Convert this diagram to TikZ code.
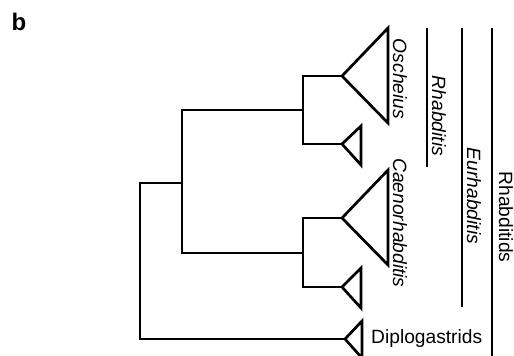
\documentclass[tikz,border=0pt]{standalone}
\usepackage{fontspec}
\setmainfont{Liberation Sans}
\begin{document}
\begin{tikzpicture}[x=1pt, y=-1pt,
    branch/.style={line width=2.7pt, line join=miter},
    clade/.style={line width=2.7pt, line join=miter},
    bar/.style={line width=2.7pt},
    taxon/.style={font=\fontsize{19.2}{23}\selectfont, inner sep=0pt},
    vtaxon/.style={taxon, rotate=-90},
  ]
  \useasboundingbox (0,0) rectangle (514,356);

  % panel letter
  \node[font=\fontsize{24}{28}\selectfont\bfseries, inner sep=0pt] (panel) at (19,22) {b};

  % internal nodes of the tree
  \coordinate (n0) at (140,261);
  \coordinate (n1) at (182,183);
  \coordinate (n2) at (303,110);
  \coordinate (n3) at (303,253);

  % apexes of the collapsed clades
  \coordinate (aOsc) at (342,76);
  \coordinate (aSmA) at (342,144);
  \coordinate (aCae) at (342,218);
  \coordinate (aSmB) at (342,287);
  \coordinate (aDip) at (345,339);

  % branches
  \draw[branch] (n1) -| (n0) |- (aDip);
  \draw[branch] (n2) -| (n1) |- (n3);
  \draw[branch] (aOsc) -| (n2) |- (aSmA);
  \draw[branch] (aCae) -| (n3) |- (aSmB);

  % collapsed clades
  \draw[clade] (aOsc) -- ++(46,-48) -- ++(0,95) -- cycle;
  \draw[clade] (aSmA) -- ++(19,-18) -- ++(0,39) -- cycle;
  \draw[clade] (aCae) -- ++(46,-48) -- ++(0,95) -- cycle;
  \draw[clade] (aSmB) -- ++(19,-19) -- ++(0,40) -- cycle;
  \draw[clade] (aDip) -- ++(17,-18) -- ++(0,37) -- cycle;

  % clade labels
  \node[vtaxon] (lOsc) at (400,79) {\itshape Oscheius};
  \node[vtaxon] (lCae) at (400,223) {\itshape Caenorhabditis};
  \node[taxon, anchor=base west] (lDip) at (371,343) {Diplogastrids};

  % group bars
  \draw[bar] (427,28) -- (427,167);
  \draw[bar] (462,28) -- (462,307);
  \draw[bar] (492,28) -- (492,356);

  % group labels
  \node[vtaxon] (lRha) at (439,116) {\itshape Rhabditis};
  \node[vtaxon] (lEur) at (474,196) {\itshape Eurhabditis};
  \node[vtaxon] (lRds) at (506,217) {Rhabditids};
\end{tikzpicture}
\end{document}
